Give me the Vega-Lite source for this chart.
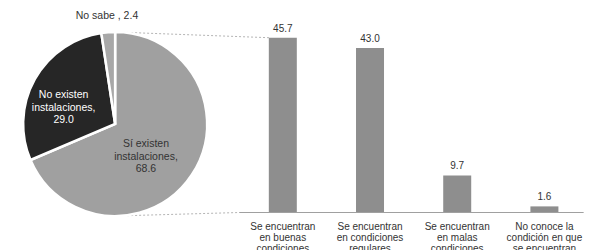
{
  "$schema": "https://vega.github.io/schema/vega-lite/v6.json",
  "width": 589,
  "height": 250,
  "padding": 0,
  "autosize": {"type": "none"},
  "background": "white",
  "config": {"view": {"stroke": null}, "font": "Liberation Sans", "axis": {"disable": true}},
  "datasets": {
    "pie": [
      {"categoria": "Sí existen instalaciones", "valor": 68.6, "etiqueta": "Sí existen\ninstalaciones,\n68.6"},
      {"categoria": "No existen instalaciones", "valor": 29.0, "etiqueta": "No existen\ninstalaciones,\n29.0"},
      {"categoria": "No sabe", "valor": 2.4, "etiqueta": "No sabe , 2.4"}
    ],
    "barras": [
      {"orden": 1, "condicion": "Se encuentran\nen buenas\ncondiciones", "valor": 45.7},
      {"orden": 2, "condicion": "Se encuentran\nen condiciones\nregulares", "valor": 43.0},
      {"orden": 3, "condicion": "Se encuentran\nen malas\ncondiciones", "valor": 9.7},
      {"orden": 4, "condicion": "No conoce la\ncondición en que\nse encuentran", "valor": 1.6}
    ]
  },
  "layer": [
    {
      "data": {"name": "barras"},
      "mark": {"type": "bar", "width": 28, "color": "#8e8e8e"},
      "encoding": {
        "x": {"field": "orden", "type": "quantitative", "axis": null, "scale": {"domain": [-2.186, 4.454], "nice": false, "zero": false}},
        "y": {"field": "valor", "type": "quantitative", "axis": null, "scale": {"domain": [-9.8, 55.56], "nice": false, "zero": false}}
      }
    },
    {
      "data": {"name": "barras"},
      "mark": {"type": "text", "baseline": "bottom", "dy": -4, "fontSize": 10, "color": "#333333"},
      "encoding": {
        "x": {"field": "orden", "type": "quantitative", "axis": null, "scale": {"domain": [-2.186, 4.454], "nice": false, "zero": false}},
        "y": {"field": "valor", "type": "quantitative", "axis": null, "scale": {"domain": [-9.8, 55.56], "nice": false, "zero": false}},
        "text": {"field": "valor", "type": "quantitative", "format": ".1f"}
      }
    },
    {
      "data": {"name": "barras"},
      "mark": {"type": "text", "baseline": "top", "dy": 9, "fontSize": 10, "lineBreak": "\n", "lineHeight": 11, "color": "#333333"},
      "encoding": {
        "x": {"field": "orden", "type": "quantitative", "axis": null, "scale": {"domain": [-2.186, 4.454], "nice": false, "zero": false}},
        "y": {"datum": 0, "type": "quantitative", "axis": null, "scale": {"domain": [-9.8, 55.56], "nice": false, "zero": false}},
        "text": {"field": "condicion"}
      }
    },
    {
      "data": {"values": [{}]},
      "mark": {"type": "rule", "color": "#a0a0a0", "strokeWidth": 1},
      "encoding": {
        "x": {"datum": 0.5, "type": "quantitative", "axis": null, "scale": {"domain": [-2.186, 4.454], "nice": false, "zero": false}},
        "x2": {"datum": 4.45},
        "y": {"datum": 0, "type": "quantitative", "axis": null, "scale": {"domain": [-9.8, 55.56], "nice": false, "zero": false}}
      }
    },
    {
      "data": {"values": [{}]},
      "mark": {"type": "rule", "color": "#b5b5b5", "strokeWidth": 1, "strokeDash": [2, 2]},
      "encoding": {
        "x": {"datum": -0.923, "type": "quantitative", "axis": null, "scale": {"domain": [-2.186, 4.454], "nice": false, "zero": false}},
        "x2": {"datum": 0.842},
        "y": {"datum": 47.19, "type": "quantitative", "axis": null, "scale": {"domain": [-9.8, 55.56], "nice": false, "zero": false}},
        "y2": {"datum": 45.7}
      }
    },
    {
      "data": {"values": [{}]},
      "mark": {"type": "rule", "color": "#b5b5b5", "strokeWidth": 1, "strokeDash": [2, 2]},
      "encoding": {
        "x": {"datum": -0.923, "type": "quantitative", "axis": null, "scale": {"domain": [-2.186, 4.454], "nice": false, "zero": false}},
        "x2": {"datum": 0.5},
        "y": {"datum": -0.91, "type": "quantitative", "axis": null, "scale": {"domain": [-9.8, 55.56], "nice": false, "zero": false}},
        "y2": {"datum": 0}
      }
    },
    {
      "data": {"name": "pie"},
      "mark": {"type": "arc", "outerRadius": 92, "stroke": "white", "strokeWidth": 2.5},
      "encoding": {
        "theta": {"field": "valor", "type": "quantitative", "stack": true},
        "order": {"field": "valor", "sort": "descending"},
        "color": {"field": "categoria", "type": "nominal", "legend": null, "scale": {"domain": ["Sí existen instalaciones", "No existen instalaciones", "No sabe"], "range": ["#a0a0a0", "#262626", "#a8a8a8"]}},
        "x": {"datum": -0.923, "type": "quantitative", "axis": null, "scale": {"domain": [-2.186, 4.454], "nice": false, "zero": false}},
        "y": {"datum": 23.14, "type": "quantitative", "axis": null, "scale": {"domain": [-9.8, 55.56], "nice": false, "zero": false}}
      }
    },
    {
      "data": {"name": "pie"},
      "mark": {"type": "text", "radius": 37, "fontSize": 10.5, "lineBreak": "\n", "lineHeight": 12.5, "baseline": "middle", "color": "#333333"},
      "encoding": {
        "theta": {"field": "valor", "type": "quantitative", "stack": true},
        "order": {"field": "valor", "sort": "descending"},
        "detail": {"field": "categoria"},
        "text": {"condition": {"test": "datum.categoria === 'Sí existen instalaciones'", "field": "etiqueta"}, "value": ""},
        "x": {"datum": -0.923, "type": "quantitative", "axis": null, "scale": {"domain": [-2.186, 4.454], "nice": false, "zero": false}},
        "y": {"datum": 23.14, "type": "quantitative", "axis": null, "scale": {"domain": [-9.8, 55.56], "nice": false, "zero": false}}
      }
    },
    {
      "data": {"name": "pie"},
      "mark": {"type": "text", "radius": 59, "fontSize": 10.5, "lineBreak": "\n", "lineHeight": 12.5, "baseline": "middle", "color": "white"},
      "encoding": {
        "theta": {"field": "valor", "type": "quantitative", "stack": true},
        "order": {"field": "valor", "sort": "descending"},
        "detail": {"field": "categoria"},
        "text": {"condition": {"test": "datum.categoria === 'No existen instalaciones'", "field": "etiqueta"}, "value": ""},
        "x": {"datum": -0.923, "type": "quantitative", "axis": null, "scale": {"domain": [-2.186, 4.454], "nice": false, "zero": false}},
        "y": {"datum": 23.14, "type": "quantitative", "axis": null, "scale": {"domain": [-9.8, 55.56], "nice": false, "zero": false}}
      }
    },
    {
      "data": {"name": "pie"},
      "mark": {"type": "text", "radius": 108, "fontSize": 10.5, "baseline": "middle", "color": "#333333"},
      "encoding": {
        "theta": {"field": "valor", "type": "quantitative", "stack": true},
        "order": {"field": "valor", "sort": "descending"},
        "detail": {"field": "categoria"},
        "text": {"condition": {"test": "datum.categoria === 'No sabe'", "field": "etiqueta"}, "value": ""},
        "x": {"datum": -0.923, "type": "quantitative", "axis": null, "scale": {"domain": [-2.186, 4.454], "nice": false, "zero": false}},
        "y": {"datum": 23.14, "type": "quantitative", "axis": null, "scale": {"domain": [-9.8, 55.56], "nice": false, "zero": false}}
      }
    }
  ]
}
